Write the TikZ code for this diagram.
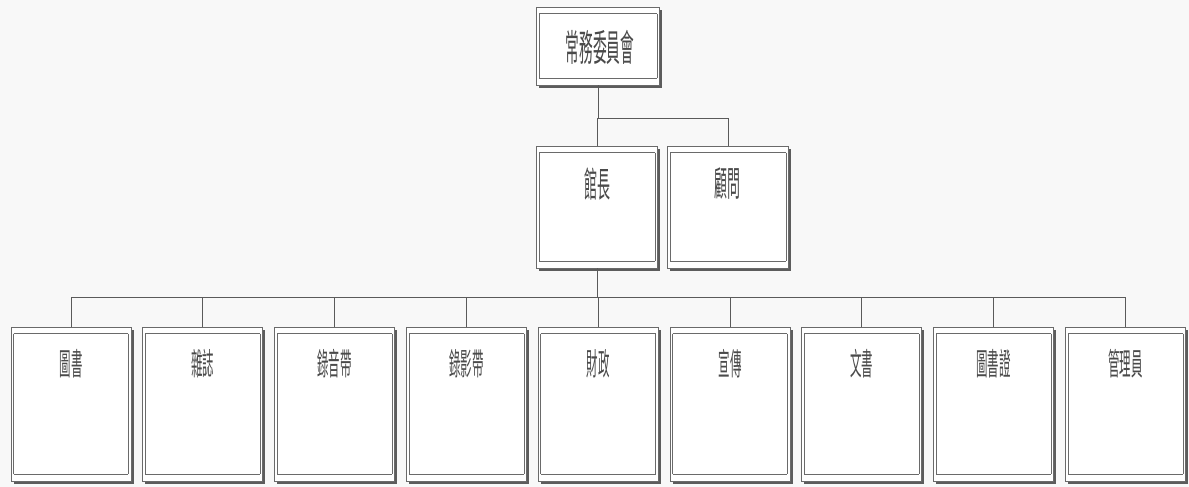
\documentclass[tikz,border=0pt]{standalone}
\usepackage{fontspec}
\newfontfamily\cjk{Noto Sans CJK TC}
\usetikzlibrary{shadows}
\definecolor{bgc}{HTML}{F8F8F8}
\definecolor{edge}{HTML}{6A6A6A}
\definecolor{wire}{HTML}{5A5A5A}
\definecolor{ink}{HTML}{4A4A4A}
\definecolor{shade}{HTML}{5C5C5C}
\newcommand{\narrow}[1]{\scalebox{0.37}[1]{#1}}
\tikzset{
  orgbox/.style={draw=edge, line width=0.9pt, fill=white, rectangle, inner sep=0pt,
    drop shadow={shadow xshift=2.5pt, shadow yshift=-3pt, fill=shade, opacity=1}},
  inner/.style={draw=edge, line width=0.7pt},
  wirestyle/.style={draw=wire, line width=0.9pt},
  labelbig/.style={text=ink, inner sep=0pt, font=\cjk\fontsize{37}{37}\selectfont},
  labelmid/.style={text=ink, inner sep=0pt, font=\cjk\fontsize{35}{35}\selectfont},
  labelsmall/.style={text=ink, inner sep=0pt, font=\cjk\fontsize{31}{31}\selectfont},
}
\begin{document}
\begin{tikzpicture}[x=1pt,y=-1pt]
\useasboundingbox (0,0) rectangle (1189,487);
\fill[bgc] (0,0) rectangle (1189,487);

% top box
\node[orgbox, minimum width=123pt, minimum height=78pt] (top) at (598,46) {};
\node[labelbig] (toplab) at (600,47) {\narrow{常務委員會}};

% second row
\node[orgbox, minimum width=121pt, minimum height=122pt] (chief) at (597,207) {};
\node[orgbox, minimum width=121pt, minimum height=122pt] (adv) at (728,207) {};
\node[labelmid] (chieflab) at (597,184) {\narrow{館長}};
\node[labelmid] (advlab) at (727,184) {\narrow{顧問}};

% bottom row
\foreach \i/\t in {0/圖書,1/雜誌,2/錄音帶,3/錄影帶,4/財政,5/宣傳,6/文書,7/圖書證,8/管理員}{
  \pgfmathsetmacro{\cx}{71+131.8*\i}
  \node[orgbox, minimum width=120pt, minimum height=154pt] (b\i) at (\cx,404) {};
  \node[labelsmall] (l\i) at (\cx,364) {\narrow{\t}};
}

% inner double lines of boxes
\foreach \n in {top,chief,adv,b0,b1,b2,b3,b4,b5,b6,b7,b8}{
  \draw[inner] ([xshift=3pt,yshift=-7pt]\n.north west) -- ([xshift=-3pt,yshift=-7pt]\n.north east);
  \draw[inner] ([xshift=3pt,yshift=7pt]\n.south west) -- ([xshift=-3pt,yshift=7pt]\n.south east);
  \draw[inner] ([xshift=3pt,yshift=-7pt]\n.north west) -- ([xshift=3pt,yshift=7pt]\n.south west);
  \draw[inner] ([xshift=-3pt,yshift=-7pt]\n.north east) -- ([xshift=-3pt,yshift=7pt]\n.south east);
}

% connectors
\coordinate (j1) at (598,118);
\coordinate (j2) at (597,297);
\draw[wirestyle] (top.south) -- (j1);
\draw[wirestyle] (chief.north |- j1) -- (adv.north |- j1);
\draw[wirestyle] (chief.north |- j1) -- (chief.north);
\draw[wirestyle] (adv.north |- j1) -- (adv.north);
\draw[wirestyle] (chief.south) -- (j2);
\draw[wirestyle] (b0.north |- j2) -- (b8.north |- j2);
\foreach \i in {0,...,8}{
  \draw[wirestyle] (b\i.north |- j2) -- (b\i.north);
}
\end{tikzpicture}
\end{document}
